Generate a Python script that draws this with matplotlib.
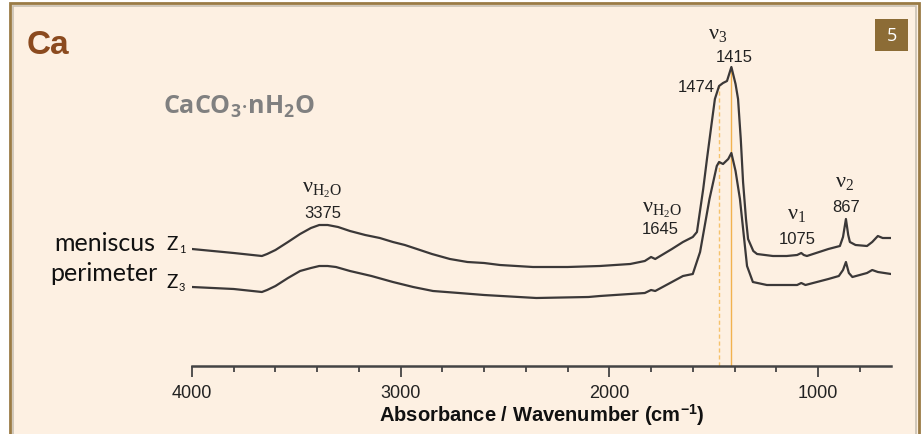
import matplotlib
matplotlib.use("Agg")
import matplotlib.pyplot as plt
from matplotlib.patches import Rectangle
from matplotlib.ticker import MultipleLocator

# spectra (wavenumber cm-1, relative absorbance)
wn_meniscus = [4000, 3900, 3800, 3665, 3640, 3600, 3540, 3482, 3430, 3390, 3350, 3300, 3243,
               3170, 3100, 3037, 2980, 2922, 2850, 2764, 2680, 2600, 2524, 2366, 2200, 2045,
               1900, 1830, 1800, 1780, 1700, 1647, 1600, 1580, 1550, 1532, 1510, 1494, 1474,
               1455, 1436, 1415, 1395, 1383, 1370, 1359, 1345, 1335, 1310, 1292, 1216, 1150,
               1100, 1080, 1068, 1053, 950, 895, 880, 866, 855, 847, 820, 765, 740, 713, 690, 650]
abs_meniscus = [1.17, 1.15, 1.13, 1.10, 1.12, 1.16, 1.24, 1.32, 1.38, 1.41, 1.41, 1.39, 1.35,
                1.31, 1.28, 1.24, 1.21, 1.17, 1.12, 1.07, 1.04, 1.03, 1.01, 0.99, 0.99, 1.00,
                1.02, 1.05, 1.09, 1.07, 1.17, 1.24, 1.29, 1.34, 1.77, 2.07, 2.42, 2.67, 2.80,
                2.83, 2.85, 2.99, 2.82, 2.67, 2.27, 1.84, 1.47, 1.27, 1.15, 1.12, 1.10, 1.10,
                1.11, 1.13, 1.11, 1.10, 1.17, 1.20, 1.29, 1.47, 1.31, 1.24, 1.21, 1.20, 1.24,
                1.30, 1.28, 1.28]

wn_perimeter = [4000, 3800, 3665, 3640, 3600, 3540, 3482, 3430, 3390, 3350, 3310, 3243, 3140,
                3037, 2940, 2845, 2720, 2600, 2350, 2100, 2045, 1830, 1800, 1780, 1700, 1647,
                1600, 1565, 1520, 1485, 1474, 1455, 1430, 1415, 1395, 1374, 1340, 1312, 1245,
                1100, 1080, 1060, 950, 900, 880, 866, 852, 835, 765, 740, 713, 650]
abs_perimeter = [0.79, 0.77, 0.74, 0.76, 0.80, 0.88, 0.95, 0.98, 1.00, 1.00, 0.99, 0.95, 0.90,
                 0.84, 0.79, 0.75, 0.73, 0.71, 0.68, 0.69, 0.70, 0.73, 0.76, 0.75, 0.84, 0.90,
                 0.92, 1.14, 1.67, 2.00, 2.04, 2.02, 2.07, 2.13, 1.95, 1.67, 1.00, 0.84, 0.81,
                 0.81, 0.83, 0.81, 0.87, 0.90, 0.96, 1.04, 0.93, 0.89, 0.93, 0.96, 0.94, 0.92]

major_ticks = [4000, 3000, 2000, 1000]
marker_lines = [1474, 1415]

bg = "#FDF0E2"
line_col = "#3b3838"
serif = "Liberation Serif"
sans = "Liberation Sans"

fig = plt.figure(figsize=(9.23, 4.35), dpi=100)
fig.patch.set_facecolor("white")

# frame
fig.patches.append(Rectangle((10 / 923, -0.1), 909 / 923, 431 / 435 + 0.1, transform=fig.transFigure,
                             facecolor=bg, edgecolor="#9A7B45", lw=2, zorder=-2))
fig.patches.append(Rectangle((12.5 / 923, -0.1), 903.5 / 923, 428 / 435 + 0.1, transform=fig.transFigure,
                             facecolor="none", edgecolor="#C9C0B3", lw=1.2, zorder=-1))
fig.patches.append(Rectangle((875 / 923, 1 - 52 / 435), 33 / 923, 32 / 435, transform=fig.transFigure,
                             facecolor="#8C6C36", edgecolor="none", zorder=1))
fig.text(891.5 / 923, 1 - 36 / 435, "5", color="white", fontsize=13, family="Open Sans",
         ha="center", va="center")
fig.text(27 / 923, 1 - 46 / 435, "Ca", color="#8B4A1E", fontsize=24, weight="bold",
         family=sans, ha="left", va="center")
fig.text(163 / 923, 1 - 107 / 435, r"$\mathregular{CaCO_3{\cdot}nH_2O}$", color="#808080",
         fontsize=18, weight="bold", family="Open Sans", ha="left", va="center")

# sample names with small subscripts
lab_kw = dict(color="#111111", family="Lato", va="baseline")
fig.text(54 / 923, 1 - 251 / 435, "meniscus", fontsize=18, ha="left", **lab_kw)
fig.text(166 / 923, 1 - 250 / 435, "Z", fontsize=13.5, ha="left", **lab_kw)
fig.text(179 / 923, 1 - 253 / 435, "1", fontsize=8, ha="left", **lab_kw)
fig.text(50 / 923, 1 - 281 / 435, "perimeter", fontsize=18, ha="left", **lab_kw)
fig.text(166 / 923, 1 - 288 / 435, "Z", fontsize=13.5, ha="left", **lab_kw)
fig.text(179 / 923, 1 - 291 / 435, "3", fontsize=8, ha="left", **lab_kw)

ax = fig.add_axes([192 / 923, 68 / 435, 699 / 923, 347 / 435])
ax.set_facecolor("none")
ax.plot(wn_meniscus, abs_meniscus, color=line_col, lw=1.6)
ax.plot(wn_perimeter, abs_perimeter, color=line_col, lw=1.6)

ax.vlines(marker_lines[0], 0, 2.80, color="#F6C26B", lw=1.0, ls=(0, (3, 2)), zorder=0)
ax.vlines(marker_lines[1], 0, 2.99, color="#F2B24E", lw=1.0, zorder=0)

ax.set_xlim(4000, 650)
ax.set_ylim(0, 3.47)
for s in ["left", "right", "top"]:
    ax.spines[s].set_visible(False)
ax.spines["bottom"].set_color("#444444")
ax.spines["bottom"].set_linewidth(1.8)
ax.set_yticks([])
ax.set_xticks(major_ticks)
ax.xaxis.set_minor_locator(MultipleLocator(200))
ax.tick_params(axis="x", which="major", direction="out", length=8, width=1.3, color="#444444",
               labelsize=13, labelcolor="#222222", pad=5)
ax.tick_params(axis="x", which="minor", direction="out", length=4.5, width=1.3, color="#444444")
for lab in ax.get_xticklabels():
    lab.set_family(sans)
ax.set_xlabel(r"Absorbance / Wavenumber (cm$^{\mathregular{-1}}$)", fontsize=14.5, weight="bold",
              family=sans, color="#111111", labelpad=0)

# band labels
num_kw = dict(fontsize=12, family=sans, color="#222222", ha="center", va="center")
nu_kw = dict(fontsize=16, family=serif, color="#222222", ha="center", va="center")
ax.text(3375, 1.77, r"$\mathregular{ν_{H_2O}}$", **nu_kw)
ax.text(3375, 1.54, "3375", **num_kw)
ax.text(1748, 1.57, r"$\mathregular{ν_{H_2O}}$", **nu_kw)
ax.text(1755, 1.37, "1645", **num_kw)
ax.text(1479, 3.32, r"$\mathregular{ν_3}$", **nu_kw)
ax.text(1403, 3.10, "1415", **num_kw)
ax.text(1585, 2.80, "1474", **num_kw)
ax.text(1101, 1.52, r"$\mathregular{ν_1}$", **nu_kw)
ax.text(1101, 1.27, "1075", **num_kw)
ax.text(871, 1.84, r"$\mathregular{ν_2}$", **nu_kw)
ax.text(866, 1.59, "867", **num_kw)

fig.savefig("out.png", dpi=100)
